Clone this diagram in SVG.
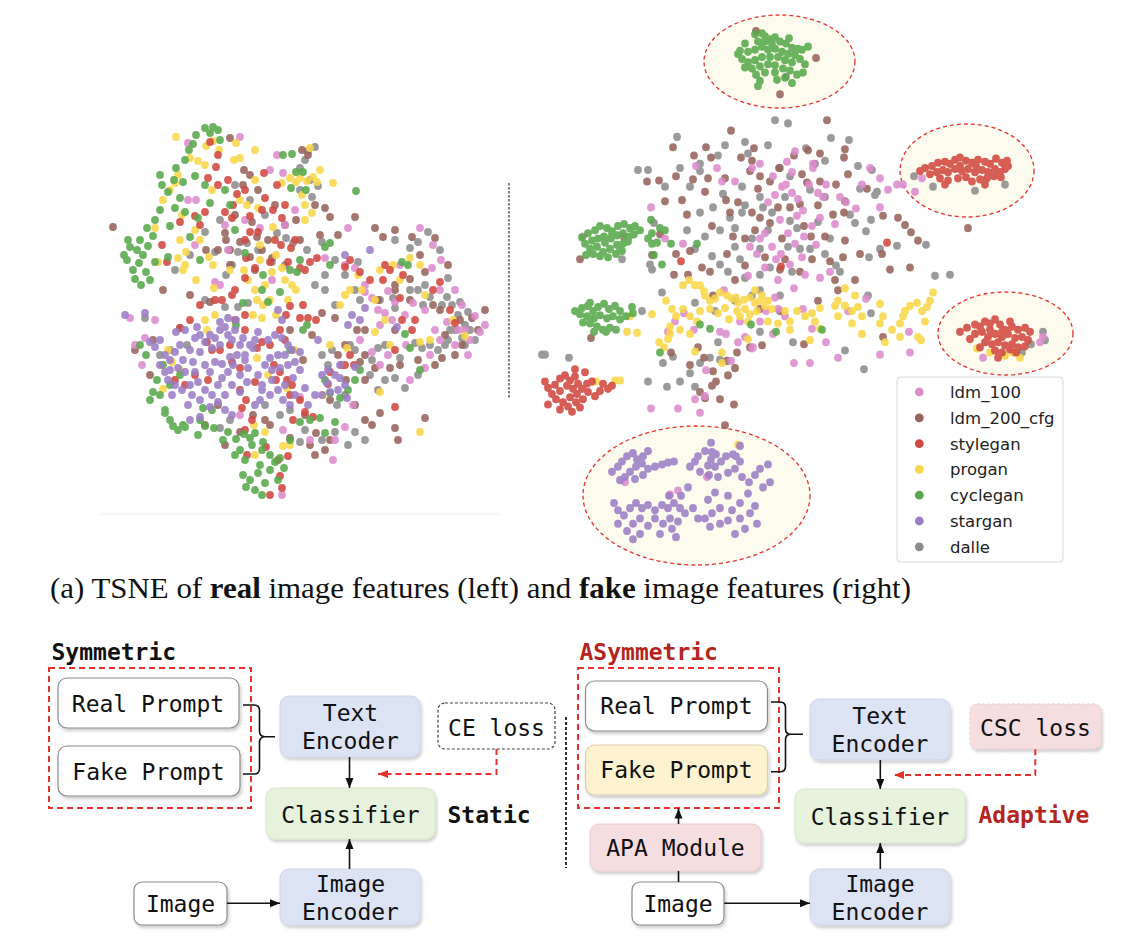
<svg xmlns="http://www.w3.org/2000/svg" width="1130" height="948" viewBox="0 0 1130 948">
<style>
.d path{fill:none;stroke-linecap:round;stroke-width:7.8;opacity:.88}
.p{stroke:#dc8bcc}.b{stroke:#96645b}.r{stroke:#d04840}.y{stroke:#f8d648}.g{stroke:#58a94b}.v{stroke:#9b7dc5}.k{stroke:#8c8c8c}
.ell{fill:#fdfbee;stroke:#e8302a;stroke-width:1.3;stroke-dasharray:4 3}
.lg{font-family:"DejaVu Sans",sans-serif;font-size:16.5px;fill:#222}
.mono{font-family:"DejaVu Sans Mono","Liberation Mono",monospace;font-size:23px;fill:#111;text-anchor:middle}
.hd{font-family:"DejaVu Sans Mono","Liberation Mono",monospace;font-size:23px;font-weight:bold}
.box{stroke:#8a8a8a;stroke-width:1.2;fill:#fff}
.blue{fill:#dce3f4;stroke:#cdd5eb;stroke-width:1}
.green{fill:#e7f2dc;stroke:#d6e6c8;stroke-width:1}
.pink{fill:#f5dde0;stroke:#ecc9cd;stroke-width:1}
.yel{fill:#fdf2cf;stroke:#d9cfae;stroke-width:1.2}
.ln{stroke:#111;stroke-width:1.6;fill:none}
.rd{stroke:#e8302a;stroke-width:2;fill:none;stroke-dasharray:6 4}
</style>
<defs>
<filter id="sh" x="-10%" y="-15%" width="125%" height="145%"><feDropShadow dx="1.5" dy="2.5" stdDeviation="1.5" flood-color="#000" flood-opacity="0.2"/></filter>
<marker id="ah" viewBox="0 0 10 10" refX="10" refY="5" markerUnits="userSpaceOnUse" markerWidth="10" markerHeight="10" orient="auto"><path d="M0 1L10 5L0 9z" fill="#111"/></marker>
<marker id="ahr" viewBox="0 0 10 10" refX="10" refY="5" markerUnits="userSpaceOnUse" markerWidth="10" markerHeight="10" orient="auto"><path d="M0 1L10 5L0 9z" fill="#e8302a"/></marker>
</defs>
<rect width="1130" height="948" fill="#fff"/>

<g id="tsne-left" class="d">
<line x1="100" y1="514" x2="500" y2="514" stroke="#ececec" stroke-width="1"/>
<path class="k" d="M308 151h0M315 147h0M305 160h0M300 168h0M310 180h0M300 190h0M318 186h0M312 197h0M265 215h0M277 233h0M286 238h0M293 243h0M258 250h0M238 252h0M247 243h0M226 275h0M232 265h0M205 300h0M238 307h0M248 303h0M225 307h0M215 252h0M220 220h0M205 232h0M190 255h0M175 270h0M235 185h0M250 200h0M272 262h0M285 265h0M307 250h0M322 242h0M335 260h0M345 275h0M325 275h0M358 262h0M395 240h0M410 248h0M418 242h0M428 232h0M440 250h0M448 278h0M425 285h0M410 290h0M395 308h0M393 298h0M418 290h0M423 305h0M430 297h0M447 297h0M442 305h0M452 305h0M460 302h0M468 312h0M458 315h0M465 325h0M470 330h0M475 340h0M465 345h0M450 330h0M445 345h0M438 350h0M430 345h0M422 348h0M415 343h0M400 358h0M385 345h0M378 348h0M372 360h0M355 350h0M350 345h0M332 350h0M322 355h0M328 365h0M418 375h0M405 388h0M395 378h0M385 380h0M378 390h0M370 375h0M345 395h0M337 405h0M355 432h0M365 440h0M348 445h0M335 432h0M322 440h0M305 430h0M300 442h0M290 410h0M280 415h0M265 405h0M230 420h0M220 428h0M187 345h0M170 350h0M160 355h0M145 318h0M180 328h0M380 300h0M335 305h0M355 290h0M360 300h0M325 290h0M315 285h0M455 330h0M462 338h0M448 340h0"/>
<path class="b" d="M113 227h0M230 138h0M302 150h0M308 155h0M244 170h0M250 175h0M243 185h0M258 190h0M275 205h0M257 237h0M268 240h0M296 220h0M315 205h0M235 215h0M252 222h0M225 233h0M240 242h0M226 240h0M230 250h0M218 250h0M206 250h0M250 257h0M262 250h0M272 258h0M230 265h0M330 217h0M355 217h0M338 235h0M375 228h0M383 237h0M395 230h0M412 237h0M420 255h0M435 238h0M448 265h0M425 272h0M395 290h0M378 300h0M395 285h0M410 300h0M433 305h0M440 310h0M460 320h0M472 318h0M485 310h0M478 330h0M462 345h0M455 355h0M442 358h0M435 365h0M418 360h0M400 365h0M390 368h0M375 368h0M365 355h0M360 362h0M338 355h0M345 345h0M357 330h0M365 330h0M335 318h0M322 313h0M290 330h0M210 302h0M190 295h0M163 290h0M153 340h0M135 350h0M150 375h0M205 425h0M218 405h0M225 445h0M240 432h0M253 415h0M265 420h0M270 425h0M290 438h0M305 415h0M310 445h0M315 455h0M325 450h0M316 433h0M330 440h0M355 405h0M365 420h0M372 425h0M380 413h0M395 428h0M398 440h0M425 418h0M312 335h0M303 360h0M285 225h0M255 270h0M325 208h0M300 240h0M320 235h0M410 279h0M445 335h0M395 330h0M346 380h0M365 380h0M330 400h0"/>
<path class="p" d="M188 143h0M240 137h0M188 200h0M196 200h0M228 250h0M277 155h0M270 170h0M283 173h0M245 220h0M285 225h0M295 210h0M260 228h0M225 225h0M195 245h0M215 282h0M155 320h0M130 318h0M145 338h0M135 345h0M142 365h0M220 285h0M272 280h0M325 258h0M345 265h0M355 268h0M365 292h0M388 291h0M395 302h0M405 315h0M385 313h0M372 298h0M420 228h0M433 245h0M441 260h0M432 268h0M455 290h0M462 305h0M475 316h0M485 325h0M470 340h0M455 345h0M440 340h0M430 355h0M425 368h0M410 380h0M388 355h0M380 365h0M372 352h0M406 345h0M447 322h0M458 330h0M465 330h0M480 332h0M435 330h0M425 310h0M413 303h0M353 405h0M335 440h0M345 427h0M333 460h0M310 440h0M282 495h0M300 397h0M240 415h0M283 430h0M378 310h0M400 265h0M365 285h0M348 228h0M440 290h0M468 355h0M392 320h0M380 325h0M360 340h0"/>
<path class="y" d="M176 137h0M190 158h0M198 161h0M205 165h0M178 175h0M175 183h0M163 200h0M170 190h0M182 215h0M195 230h0M200 240h0M180 240h0M186 252h0M178 258h0M185 265h0M209 257h0M213 265h0M212 190h0M219 150h0M236 143h0M240 158h0M206 146h0M213 141h0M155 228h0M158 262h0M183 270h0M196 280h0M214 288h0M230 270h0M244 270h0M248 280h0M255 290h0M265 285h0M257 300h0M234 160h0M255 150h0M255 180h0M282 183h0M290 178h0M296 182h0M300 178h0M307 181h0M313 177h0M317 182h0M302 195h0M305 205h0M312 213h0M305 220h0M310 148h0M320 170h0M333 183h0M273 227h0M258 208h0M240 200h0M247 205h0M260 245h0M260 260h0M276 255h0M272 272h0M282 268h0M285 280h0M292 285h0M296 290h0M270 300h0M263 305h0M288 300h0M276 315h0M253 315h0M262 318h0M205 320h0M215 315h0M168 350h0M172 362h0M180 370h0M163 389h0M207 330h0M345 295h0M340 305h0M350 290h0M358 275h0M362 290h0M375 300h0M393 265h0M380 270h0M400 280h0M410 258h0M420 265h0M425 295h0M375 332h0M385 320h0M390 345h0M330 345h0M347 348h0M257 358h0M268 375h0M287 388h0M295 350h0M323 395h0M420 432h0M380 392h0M254 425h0M265 432h0M283 446h0M290 445h0M255 455h0M465 336h0M453 320h0M430 340h0M420 342h0"/>
<path class="r" d="M210 142h0M218 155h0M216 167h0M228 180h0M208 178h0M218 185h0M225 212h0M232 218h0M205 212h0M200 225h0M195 216h0M180 222h0M162 245h0M167 262h0M233 205h0M245 190h0M237 194h0M250 216h0M265 198h0M264 173h0M277 185h0M262 210h0M273 210h0M285 205h0M282 218h0M275 240h0M258 232h0M250 232h0M245 240h0M246 258h0M255 268h0M270 262h0M281 245h0M291 248h0M295 240h0M300 268h0M310 262h0M317 258h0M305 270h0M288 262h0M245 278h0M235 290h0M232 295h0M222 300h0M215 300h0M200 305h0M190 320h0M180 328h0M207 342h0M212 350h0M175 380h0M195 375h0M185 385h0M208 380h0M220 350h0M230 345h0M232 362h0M240 368h0M246 400h0M262 342h0M270 345h0M280 330h0M286 315h0M300 318h0M308 318h0M316 320h0M303 305h0M290 306h0M245 315h0M235 320h0M245 330h0M274 365h0M280 372h0M287 380h0M292 385h0M276 380h0M290 395h0M300 400h0M305 412h0M313 417h0M293 420h0M255 382h0M240 390h0M252 420h0M245 430h0M288 456h0M278 460h0M270 495h0M282 488h0M280 476h0M266 447h0M247 455h0M345 267h0M350 260h0M360 272h0M385 265h0M390 270h0M383 280h0M370 280h0M400 298h0M402 320h0M395 350h0M350 355h0M345 365h0M354 365h0M328 384h0M330 372h0M342 365h0M285 340h0M395 407h0M440 282h0M433 290h0M450 310h0M455 323h0M412 330h0M415 320h0M403 275h0M257 348h0M242 408h0"/>
<path class="g" d="M205 128h0M210 133h0M213 127h0M218 130h0M220 140h0M196 135h0M193 144h0M189 150h0M185 160h0M176 168h0M160 175h0M162 185h0M168 192h0M180 198h0M175 208h0M185 212h0M170 226h0M160 210h0M155 220h0M147 228h0M153 236h0M140 240h0M137 250h0M128 240h0M127 260h0M133 270h0M139 263h0M143 255h0M146 272h0M150 280h0M141 285h0M135 279h0M124 255h0M130 247h0M148 246h0M155 262h0M195 176h0M205 185h0M210 203h0M190 237h0M168 257h0M200 260h0M225 190h0M230 205h0M235 230h0M198 218h0M183 182h0M174 180h0M283 155h0M292 154h0M296 172h0M303 172h0M306 190h0M291 188h0M356 191h0M330 243h0M263 275h0M245 253h0M262 290h0M300 260h0M290 270h0M297 272h0M280 292h0M268 302h0M243 303h0M236 325h0M307 325h0M303 330h0M290 350h0M330 265h0M408 265h0M325 247h0M140 345h0M146 355h0M157 380h0M153 392h0M160 395h0M150 400h0M165 410h0M170 385h0M180 375h0M163 365h0M165 413h0M170 420h0M173 426h0M178 430h0M183 425h0M185 427h0M200 420h0M205 426h0M198 435h0M214 428h0M223 440h0M228 432h0M236 439h0M244 434h0M250 438h0M255 433h0M263 442h0M262 450h0M252 445h0M240 450h0M235 455h0M245 460h0M260 465h0M270 455h0M275 462h0M280 458h0M243 475h0M250 480h0M258 473h0M246 487h0M255 490h0M265 483h0M270 470h0M262 495h0M278 480h0M284 468h0M290 440h0M300 422h0M310 420h0M320 418h0M330 393h0M340 398h0M348 390h0M355 380h0M360 370h0M325 433h0M335 422h0M203 408h0M212 410h0M402 262h0M405 334h0M410 348h0M420 370h0M325 380h0"/>
<path class="v" d="M165 355h0M170 360h0M175 352h0M180 345h0M183 360h0M190 350h0M195 338h0M200 335h0M205 342h0M210 335h0M215 338h0M220 330h0M225 327h0M228 335h0M232 340h0M235 330h0M240 345h0M237 355h0M230 357h0M220 345h0M212 348h0M200 352h0M193 362h0M185 372h0M178 368h0M170 370h0M168 380h0M175 385h0M182 390h0M190 385h0M198 382h0M205 390h0M212 395h0M218 385h0M222 378h0M228 372h0M233 365h0M240 375h0M232 385h0M225 395h0M218 402h0M210 407h0M200 400h0M192 395h0M188 405h0M225 410h0M215 362h0M205 365h0M195 372h0M210 372h0M222 364h0M160 365h0M165 372h0M172 395h0M240 392h0M247 382h0M248 368h0M245 355h0M250 345h0M255 340h0M243 338h0M258 332h0M236 320h0M228 318h0M220 322h0M197 327h0M185 330h0M176 332h0M160 340h0M150 342h0M145 313h0M125 315h0M155 347h0M190 420h0M200 417h0M232 415h0M255 405h0M260 400h0M262 390h0M268 340h0M275 335h0M282 338h0M288 345h0M292 350h0M285 355h0M278 355h0M270 358h0M265 365h0M272 370h0M280 368h0M288 365h0M295 362h0M300 370h0M293 378h0M285 385h0M278 390h0M270 395h0M283 400h0M290 405h0M295 395h0M305 388h0M272 380h0M262 385h0M258 375h0M300 352h0M282 320h0M278 310h0M253 348h0M245 360h0M322 375h0M328 370h0M335 375h0M340 378h0M345 385h0M338 390h0M330 392h0M322 395h0M327 383h0M340 365h0M355 367h0M347 398h0M315 395h0M308 405h0M345 255h0M370 250h0M352 315h0M365 308h0M348 325h0M360 320h0M318 340h0M397 327h0"/>
</g>

<line id="plot-separator" x1="509" y1="183" x2="509" y2="399" stroke="#555" stroke-width="1.5" stroke-dasharray="2.5 1.5"/>

<g id="tsne-right">
<ellipse id="cluster-cyclegan" class="ell" cx="779.5" cy="61.5" rx="75.5" ry="46.5"/>
<ellipse id="cluster-stylegan-a" class="ell" cx="967" cy="170.5" rx="67" ry="46.5"/>
<ellipse id="cluster-stylegan-b" class="ell" cx="1005.5" cy="333.5" rx="67.5" ry="41.5"/>
<ellipse id="cluster-stargan" class="ell" cx="696.5" cy="495.5" rx="113.5" ry="69.5"/>
<g class="d" transform="matrix(1 0 0 1.037 0 0)">
<path class="k" d="M775 116h0M788 119h0M677 132h0M745 137h0M831 133h0M849 135h0M725 140h0M768 140h0M806 143h0M638 164h0M648 164h0M680 162h0M700 158h0M718 150h0M748 148h0M780 162h0M790 170h0M815 158h0M825 155h0M858 160h0M872 164h0M665 180h0M690 180h0M700 165h0M723 187h0M742 180h0M742 205h0M745 198h0M760 190h0M785 190h0M810 183h0M825 190h0M860 182h0M875 188h0M877 185h0M700 205h0M713 200h0M730 210h0M720 222h0M735 220h0M760 240h0M768 222h0M790 213h0M797 220h0M818 214h0M830 230h0M850 207h0M855 215h0M866 223h0M871 212h0M869 248h0M880 240h0M897 237h0M650 255h0M652 260h0M662 282h0M695 240h0M712 247h0M735 238h0M720 255h0M728 262h0M745 268h0M760 265h0M770 258h0M788 238h0M800 240h0M825 245h0M836 256h0M840 262h0M868 285h0M871 302h0M926 236h0M950 265h0M935 266h0M735 290h0M752 285h0M760 280h0M780 285h0M695 292h0M715 300h0M760 320h0M793 330h0M845 338h0M864 356h0M673 344h0M663 350h0M690 360h0M700 350h0M710 345h0M720 347h0M680 368h0M667 373h0M695 373h0M718 330h0M648 368h0M642 300h0M622 250h0M654 215h0M786 74h0M914 170h0M933 180h0M975 184h0M1005 178h0M1043 320h0M1045 328h0M1031 332h0M1022 340h0M545 342h0M542 342h0M569 345h0M752 230h0M763 200h0M792 262h0M810 240h0M740 250h0M705 228h0M687 222h0M772 205h0"/>
<path class="b" d="M827 116h0M731 126h0M673 142h0M706 142h0M754 143h0M808 145h0M845 144h0M820 148h0M694 150h0M711 152h0M741 152h0M752 155h0M779 162h0M794 150h0M844 152h0M848 168h0M802 168h0M676 170h0M659 174h0M647 175h0M693 173h0M708 172h0M725 172h0M750 165h0M760 170h0M770 175h0M807 176h0M836 178h0M867 182h0M845 194h0M844 205h0M665 194h0M682 193h0M687 207h0M705 185h0M726 193h0M730 205h0M752 205h0M778 200h0M800 197h0M818 198h0M833 207h0M712 218h0M733 228h0M745 230h0M760 210h0M782 230h0M804 218h0M811 228h0M825 228h0M845 232h0M883 208h0M905 217h0M860 245h0M843 248h0M835 270h0M855 270h0M882 245h0M690 242h0M676 245h0M660 226h0M710 262h0M735 270h0M745 256h0M765 248h0M780 260h0M800 262h0M812 250h0M830 252h0M713 285h0M760 298h0M780 300h0M818 290h0M652 246h0M674 265h0M688 265h0M702 258h0M727 245h0M838 280h0M890 260h0M910 258h0M968 220h0M911 224h0M918 232h0M898 210h0M671 340h0M698 335h0M704 345h0M713 358h0M690 352h0M716 368h0M728 362h0M735 355h0M720 385h0M734 390h0M712 372h0M700 378h0M705 384h0M750 335h0M762 333h0M804 332h0M883 325h0M727 348h0M737 340h0M756 30h0M816 56h0M780 91h0M580 250h0M591 326h0M725 410h0M770 215h0M790 200h0M758 182h0M738 195h0M820 175h0M785 250h0M755 222h0"/>
<path class="p" d="M795 146h0M787 156h0M813 158h0M752 162h0M717 162h0M696 160h0M722 175h0M735 175h0M760 158h0M792 166h0M813 162h0M809 178h0M786 178h0M775 188h0M792 186h0M818 186h0M823 190h0M826 178h0M773 170h0M798 192h0M803 203h0M780 212h0M797 208h0M804 228h0M820 210h0M816 236h0M802 248h0M790 255h0M781 245h0M772 238h0M760 230h0M750 238h0M765 258h0M778 270h0M794 278h0M805 265h0M820 268h0M830 262h0M812 218h0M835 216h0M846 195h0M856 201h0M870 162h0M880 172h0M862 178h0M888 183h0M897 178h0M903 178h0M880 200h0M840 190h0M683 235h0M651 200h0M623 228h0M665 230h0M684 302h0M720 320h0M726 322h0M738 330h0M745 325h0M753 335h0M773 322h0M766 300h0M724 280h0M748 266h0M778 298h0M812 317h0M826 330h0M838 345h0M810 350h0M794 350h0M752 336h0M731 348h0M706 357h0M695 385h0M700 398h0M775 287h0M785 305h0M803 298h0M848 300h0M866 288h0M880 342h0M909 320h0M910 340h0M678 394h0M651 394h0M705 382h0M760 310h0M740 310h0M694 318h0M675 310h0M668 320h0M922 172h0M915 185h0M983 345h0M1040 330h0M1043 325h0M583 228h0M625 465h0M707 460h0M678 473h0M670 477h0M765 225h0M788 225h0M776 250h0M795 235h0M768 195h0M782 180h0M757 245h0"/>
<path class="y" d="M683 275h0M689 270h0M695 275h0M700 275h0M705 285h0M710 290h0M715 288h0M720 282h0M727 285h0M732 288h0M738 292h0M744 289h0M750 287h0M755 292h0M760 290h0M765 295h0M745 298h0M737 300h0M725 297h0M718 302h0M710 298h0M700 300h0M690 305h0M697 310h0M683 298h0M676 305h0M670 315h0M680 318h0M690 322h0M668 327h0M664 335h0M659 330h0M670 322h0M729 308h0M740 305h0M750 303h0M757 300h0M755 280h0M772 298h0M785 300h0M790 310h0M797 300h0M805 305h0M812 302h0M815 310h0M820 297h0M790 318h0M778 312h0M768 310h0M838 290h0M845 295h0M852 300h0M858 296h0M862 305h0M852 312h0M838 305h0M835 295h0M845 278h0M880 293h0M883 305h0M892 318h0M900 312h0M903 305h0M910 295h0M917 292h0M922 300h0M925 310h0M927 296h0M930 290h0M933 282h0M885 330h0M820 317h0M810 328h0M695 339h0M722 340h0M748 327h0M748 310h0M736 287h0M704 281h0M900 325h0M918 325h0M921 328h0M862 322h0M855 285h0M672 298h0M666 290h0M768 290h0M762 285h0M722 350h0M905 300h0M880 312h0M977 336h0M990 340h0M1005 343h0M1013 340h0M1020 345h0M630 305h0M627 320h0M637 321h0M652 303h0M596 368h0M615 367h0M620 367h0M738 429h0"/>
<path class="g" d="M755 33h0M758 40h0M765 35h0M770 38h0M775 36h0M780 40h0M786 42h0M792 46h0M798 47h0M802 48h0M808 45h0M745 42h0M740 49h0M748 50h0M755 48h0M762 45h0M768 48h0M775 47h0M782 50h0M788 52h0M795 53h0M800 57h0M805 62h0M803 70h0M792 60h0M785 58h0M778 55h0M770 55h0M762 55h0M755 58h0M748 60h0M742 57h0M738 52h0M745 65h0M752 66h0M760 64h0M768 62h0M775 63h0M783 66h0M790 68h0M797 72h0M785 75h0M775 70h0M765 70h0M756 72h0M760 78h0M758 83h0M777 77h0M792 80h0M765 40h0M772 42h0M789 37h0M762 32h0M582 229h0M588 225h0M595 222h0M600 218h0M607 220h0M612 223h0M618 218h0M624 216h0M630 220h0M635 218h0M640 222h0M585 235h0M592 232h0M598 230h0M604 228h0M611 230h0M617 227h0M623 225h0M629 228h0M634 226h0M590 240h0M597 238h0M603 243h0M610 240h0M617 236h0M623 235h0M628 233h0M593 245h0M600 247h0M608 248h0M616 245h0M622 242h0M605 234h0M612 226h0M586 246h0M625 230h0M620 240h0M651 212h0M652 225h0M660 220h0M657 234h0M654 246h0M662 255h0M648 230h0M575 300h0M582 297h0M588 295h0M593 300h0M590 292h0M598 296h0M604 293h0M609 298h0M615 295h0M620 300h0M600 304h0M594 307h0M587 305h0M580 303h0M607 307h0M613 305h0M620 308h0M626 305h0M590 312h0M597 315h0M603 318h0M610 316h0M616 318h0M583 311h0M594 320h0M606 320h0M633 302h0M632 296h0M652 235h0M665 222h0M671 235h0M697 235h0M700 313h0M751 313h0M710 317h0M776 320h0M822 318h0M660 340h0"/>
<path class="r" d="M925 162h0M932 160h0M938 157h0M945 156h0M950 158h0M955 154h0M960 152h0M966 155h0M972 157h0M978 154h0M985 156h0M990 158h0M996 153h0M1002 157h0M1007 155h0M930 168h0M937 166h0M943 164h0M948 166h0M955 163h0M962 165h0M968 163h0M975 166h0M982 164h0M988 166h0M995 163h0M1000 166h0M1005 163h0M940 172h0M948 174h0M958 172h0M966 171h0M972 175h0M980 173h0M987 172h0M994 170h0M1001 171h0M945 178h0M985 178h0M960 160h0M976 160h0M1008 160h0M920 165h0M960 320h0M967 316h0M975 313h0M980 315h0M985 310h0M990 312h0M995 308h0M1000 313h0M1005 318h0M1012 315h0M1018 318h0M1025 316h0M1030 320h0M975 322h0M982 320h0M988 325h0M995 322h0M1002 325h0M1008 322h0M1015 326h0M1022 325h0M1028 328h0M985 330h0M992 332h0M998 330h0M1005 333h0M1012 332h0M1018 335h0M1025 334h0M995 338h0M1002 340h0M1010 337h0M1016 340h0M1002 320h0M990 318h0M1010 310h0M998 345h0M980 335h0M970 327h0M545 368h0M548 374h0M552 380h0M555 371h0M560 365h0M565 362h0M570 367h0M575 363h0M578 370h0M573 375h0M567 372h0M560 377h0M556 385h0M563 388h0M570 383h0M577 380h0M582 375h0M587 370h0M592 368h0M588 378h0M583 385h0M576 388h0M568 392h0M560 395h0M572 397h0M580 393h0M595 382h0M600 377h0M603 370h0M608 375h0M612 372h0M548 390h0M585 359h0M575 356h0M781 257h0M887 234h0M681 252h0"/>
<path class="v" d="M612 455h0M618 450h0M622 445h0M627 440h0M633 437h0M637 443h0M643 440h0M648 435h0M642 447h0M636 450h0M630 455h0M625 460h0M620 463h0M635 462h0M643 458h0M648 452h0M655 450h0M662 448h0M668 446h0M674 445h0M614 485h0M618 492h0M624 497h0M630 490h0M636 485h0M642 490h0M648 487h0M655 492h0M662 487h0M668 490h0M674 485h0M680 490h0M670 500h0M663 505h0M655 500h0M648 507h0M640 500h0M633 505h0M627 512h0M618 505h0M633 520h0M640 515h0M660 515h0M672 510h0M678 503h0M685 495h0M676 518h0M669 478h0M681 478h0M688 470h0M690 450h0M695 445h0M698 440h0M705 435h0M711 443h0M715 450h0M721 445h0M726 440h0M733 438h0M740 445h0M735 452h0M728 456h0M718 460h0M709 458h0M700 455h0M742 460h0M749 465h0M755 458h0M760 452h0M768 448h0M763 470h0M770 465h0M748 476h0M740 485h0M732 492h0M720 490h0M712 495h0M705 500h0M710 508h0M720 505h0M728 502h0M740 500h0M750 495h0M755 488h0M757 505h0M745 510h0M735 515h0M708 482h0M715 475h0M728 478h0M693 490h0M698 500h0M740 430h0M736 440h0M711 427h0M712 436h0M708 449h0M716 438h0"/>
</g>
</g>

<g id="legend">
<rect x="897" y="377" width="166" height="185" rx="4" fill="#fff" fill-opacity="0.9" stroke="#d8d8d8" stroke-width="1"/>
<circle cx="919.3" cy="392" r="4.4" fill="#dc8bcc"/><text class="lg" x="950" y="398">ldm_100</text>
<circle cx="919.3" cy="417.8" r="4.4" fill="#96645b"/><text class="lg" x="950" y="423.8">ldm_200_cfg</text>
<circle cx="919.3" cy="443.6" r="4.4" fill="#d04840"/><text class="lg" x="950" y="449.6">stylegan</text>
<circle cx="919.3" cy="469.4" r="4.4" fill="#f8d648"/><text class="lg" x="950" y="475.4">progan</text>
<circle cx="919.3" cy="495.2" r="4.4" fill="#58a94b"/><text class="lg" x="950" y="501.2">cyclegan</text>
<circle cx="919.3" cy="521" r="4.4" fill="#9b7dc5"/><text class="lg" x="950" y="527">stargan</text>
<circle cx="919.3" cy="546.8" r="4.4" fill="#8c8c8c"/><text class="lg" x="950" y="552.8">dalle</text>
</g>

<g id="caption">
<text x="50" y="598" font-family="Liberation Serif,serif" font-size="30" fill="#111" textLength="861" lengthAdjust="spacingAndGlyphs">(a) TSNE of <tspan font-weight="bold">real</tspan> image features (left) and <tspan font-weight="bold">fake</tspan> image features (right)</text>
</g>

<g id="sym-label"><text class="hd" x="51.5" y="660" fill="#111">Symmetric</text></g>
<g id="sym-group"><rect x="49" y="668" width="202" height="140" class="rd"/></g>
<g id="sym-real-prompt"><rect x="58" y="678" width="181" height="50" rx="9" class="box" filter="url(#sh)"/><text class="mono" x="148" y="711.5">Real Prompt</text></g>
<g id="sym-fake-prompt"><rect x="58" y="746" width="182" height="50" rx="9" class="box" filter="url(#sh)"/><text class="mono" x="148.5" y="780">Fake Prompt</text></g>
<g id="sym-text-encoder"><rect x="280" y="696" width="140" height="61" rx="9" class="blue" filter="url(#sh)"/><text class="mono" x="350.5" y="720.5">Text</text><text class="mono" x="350.5" y="749">Encoder</text></g>
<g id="sym-ce-loss"><rect x="438" y="703" width="117" height="46" rx="7" fill="#fff" stroke="#444" stroke-width="1.2" stroke-dasharray="3 2"/><text class="mono" x="496.5" y="736">CE loss</text></g>
<g id="sym-classifier"><rect x="266" y="788" width="169" height="51" rx="9" class="green" filter="url(#sh)"/><text class="mono" x="350.5" y="823">Classifier</text></g>
<g id="sym-static"><text class="hd" x="447.5" y="823" fill="#111">Static</text></g>
<g id="sym-image-encoder"><rect x="280" y="869" width="140" height="56" rx="9" class="blue" filter="url(#sh)"/><text class="mono" x="350.5" y="891.5">Image</text><text class="mono" x="350.5" y="920">Encoder</text></g>
<g id="sym-image"><rect x="134" y="882" width="93" height="43" rx="8" class="box" filter="url(#sh)"/><text class="mono" x="180.5" y="911.5">Image</text></g>

<line id="section-separator" x1="566" y1="717" x2="566" y2="868" stroke="#333" stroke-width="2" stroke-dasharray="3 2"/>

<g id="asym-label"><text class="hd" x="579.5" y="660" fill="#b5251d">ASymmetric</text></g>
<g id="asym-group"><rect x="578" y="668" width="201" height="140" class="rd"/></g>
<g id="asym-real-prompt"><rect x="585.5" y="681" width="182" height="50" rx="9" class="box" filter="url(#sh)"/><text class="mono" x="676.5" y="713.5">Real Prompt</text></g>
<g id="asym-fake-prompt"><rect x="585.5" y="745" width="182" height="50" rx="9" class="yel" filter="url(#sh)"/><text class="mono" x="676.5" y="777.5">Fake Prompt</text></g>
<g id="asym-text-encoder"><rect x="810" y="699" width="140" height="61" rx="9" class="blue" filter="url(#sh)"/><text class="mono" x="880" y="724.3">Text</text><text class="mono" x="880" y="751.7">Encoder</text></g>
<g id="asym-csc-loss"><rect x="970" y="704" width="131" height="45" rx="7" class="pink" stroke-dasharray="3 2" filter="url(#sh)"/><text class="mono" x="1035.5" y="736">CSC loss</text></g>
<g id="asym-classifier"><rect x="795" y="789" width="170" height="54" rx="9" class="green" filter="url(#sh)"/><text class="mono" x="880" y="825">Classifier</text></g>
<g id="asym-adaptive"><text class="hd" x="978.5" y="823" fill="#b5251d">Adaptive</text></g>
<g id="asym-apa"><rect x="590" y="824" width="171" height="47" rx="9" class="pink" filter="url(#sh)"/><text class="mono" x="675.5" y="856">APA Module</text></g>
<g id="asym-image-encoder"><rect x="810" y="869" width="140" height="56" rx="9" class="blue" filter="url(#sh)"/><text class="mono" x="880" y="891.5">Image</text><text class="mono" x="880" y="920">Encoder</text></g>
<g id="asym-image"><rect x="632" y="882" width="92" height="43" rx="8" class="box" filter="url(#sh)"/><text class="mono" x="678" y="911.5">Image</text></g>

<g id="connectors">
<path class="ln" stroke-width="2" d="M243 705H254Q259.5 705 259.5 710.5V731Q259.5 736.7 265 736.7H275M265 736.7Q259.5 736.7 259.5 742.4V768.5Q259.5 774 254 774H243"/>
<line class="ln" x1="349.5" y1="757" x2="349.5" y2="788" marker-end="url(#ah)"/>
<polyline class="rd" points="496.5,749 496.5,774 378,774" marker-end="url(#ahr)"/>
<line class="ln" x1="349.5" y1="869" x2="349.5" y2="839" marker-end="url(#ah)"/>
<line class="ln" x1="227" y1="903.3" x2="280" y2="903.3" marker-end="url(#ah)"/>
<path class="ln" stroke-width="2" d="M771 702H780Q785.5 702 785.5 707.5V728.8Q785.5 734.3 791 734.3H803M791 734.3Q785.5 734.3 785.5 739.8V766.2Q785.5 771.7 780 771.7H771"/>
<line class="ln" x1="880.3" y1="760" x2="880.3" y2="789" marker-end="url(#ah)"/>
<polyline class="rd" points="1035.3,749.3 1035.3,775 894,775" marker-end="url(#ahr)"/>
<line class="ln" x1="880.3" y1="869" x2="880.3" y2="843" marker-end="url(#ah)"/>
<line class="ln" x1="724.3" y1="903.3" x2="810" y2="903.3" marker-end="url(#ah)"/>
<line class="ln" x1="678.5" y1="824" x2="678.5" y2="808.5" marker-end="url(#ah)"/>
<line class="ln" x1="678.5" y1="871" x2="678.5" y2="882"/>
</g>
</svg>
